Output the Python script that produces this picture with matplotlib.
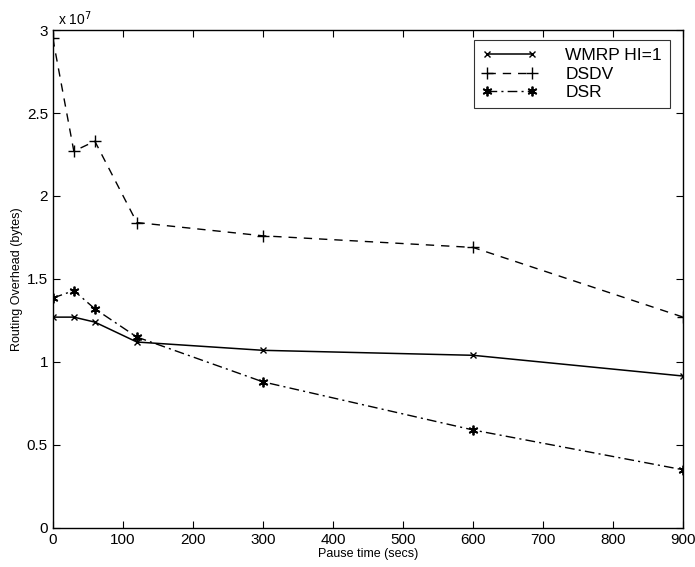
import numpy as np
import matplotlib.pyplot as plt

plt.rcParams['font.family'] = ['Liberation Sans', 'DejaVu Sans']

# ── data (routing overhead in units of 1e7 bytes) ──
pause = [0, 30, 60, 120, 300, 600, 900]
wmrp = [1.27, 1.27, 1.24, 1.12, 1.07, 1.04, 0.915]
dsdv = [2.95, 2.27, 2.33, 1.84, 1.76, 1.69, 1.27]
dsr = [1.385, 1.43, 1.32, 1.15, 0.88, 0.59, 0.35]

xticks = [0, 100, 200, 300, 400, 500, 600, 700, 800, 900]
yticks = [0, 0.5, 1, 1.5, 2, 2.5, 3]

fig = plt.figure(figsize=(6.95, 5.67), dpi=100)
ax = fig.add_axes([0.076, 0.069, 0.907, 0.878])

ax.plot(pause, wmrp, color='black', linestyle='-', linewidth=1.1,
        marker='x', markersize=5, label='WMRP HI=1')
ax.plot(pause, dsdv, color='black', linestyle=(0, (6, 5)), linewidth=1.0,
        marker='+', markersize=8, label='DSDV')
ax.plot(pause, dsr, color='black', linestyle=(0, (7, 3, 1.5, 3)), linewidth=1.0,
        marker=(6, 2, 0), markersize=7, markeredgewidth=1.3, label='DSR')

ax.set_xlim(0, 900)
ax.set_ylim(0, 3)
ax.set_xticks(xticks)
ax.set_yticks(yticks)
ax.set_yticklabels(['0', '0.5', '1', '1.5', '2', '2.5', '3'])
ax.tick_params(direction='in', top=True, right=True, labelsize=11, length=5)
for s in ax.spines.values():
    s.set_linewidth(1.0)

ax.set_xlabel('Pause time (secs)', fontsize=9, labelpad=1)
ax.set_ylabel('Routing Overhead (bytes)', fontsize=9, labelpad=3)
ax.text(0.008, 1.005, r'x 10$^{7}$', transform=ax.transAxes, fontsize=10,
        ha='left', va='bottom')

leg = ax.legend(loc='upper right', bbox_to_anchor=(0.987, 0.99), fontsize=12.5,
                frameon=True, fancybox=False, edgecolor='black', numpoints=2,
                handlelength=3.2, handletextpad=1.6, borderpad=0.45,
                labelspacing=0.2, borderaxespad=0.3)
leg.get_frame().set_linewidth(0.8)

fig.savefig('out.png', dpi=100)
